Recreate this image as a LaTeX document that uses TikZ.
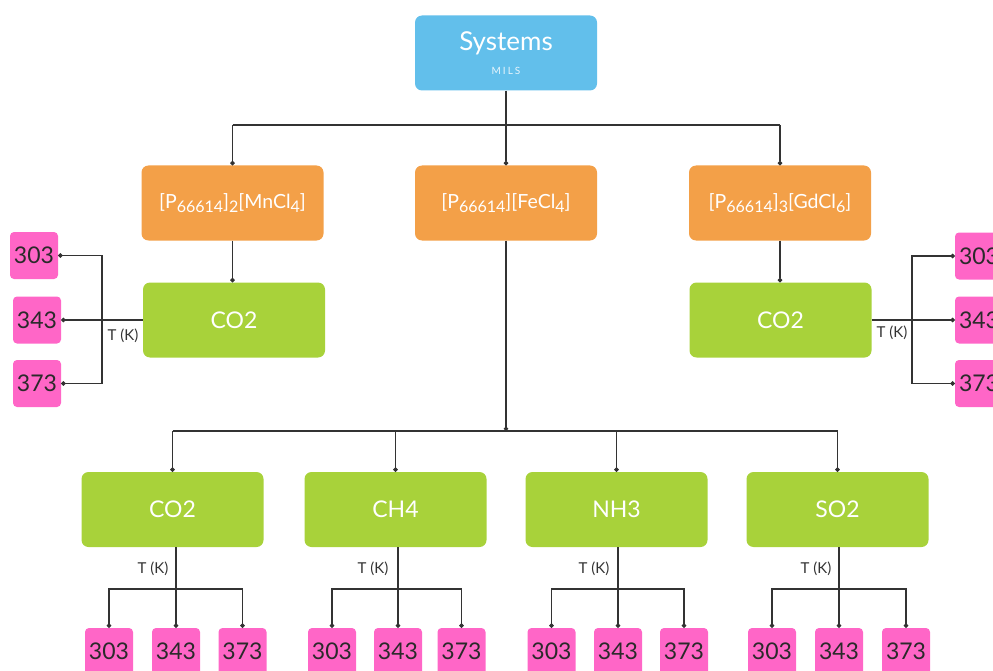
\documentclass[tikz,border=0pt]{standalone}
\usepackage{fontspec}
\setmainfont{Lato}
\usetikzlibrary{arrows.meta}
\definecolor{sysblue}{HTML}{62BFEB}
\definecolor{ionorange}{HTML}{F3A048}
\definecolor{gasgreen}{HTML}{A8D23A}
\definecolor{temppink}{HTML}{FF66C7}
\definecolor{linegray}{HTML}{333333}
\definecolor{pinktext}{HTML}{2A2A2A}
\newcommand{\lowr}[1]{\raisebox{-0.35ex}{\fontsize{16}{16}\selectfont #1}}
\begin{document}
\begin{tikzpicture}[x=1pt,y=-1pt,
  bigbox/.style={rounded corners=7pt, minimum width=182pt, minimum height=75pt, inner sep=0pt, text=white},
  sysbox/.style={bigbox, fill=sysblue, font=\fontsize{26}{28}\selectfont},
  ionbox/.style={bigbox, fill=ionorange, font=\fontsize{19.5}{21}\selectfont},
  gasbox/.style={bigbox, fill=gasgreen, font=\fontsize{23}{25}\selectfont},
  tempbox/.style={rounded corners=4pt, fill=temppink, minimum width=48pt, minimum height=47pt, inner sep=0pt, text=pinktext, font=\fontsize{23}{25}\selectfont},
  conn/.style={draw=linegray, line width=1.1pt},
  dotend/.style={conn, -{Circle[length=4.5pt]}},
  dotboth/.style={conn, {Circle[length=4.5pt]}-{Circle[length=4.5pt]}},
  tlabel/.style={font=\fontsize{15}{16}\selectfont, text=linegray, inner sep=1pt}
]
\useasboundingbox (0,0) rectangle (993,671);
\clip (0,0) rectangle (993,671);

% top
\node[sysbox, align=center] (sys) at (506,53) {Systems\\[-4pt]{\fontsize{10}{11}\selectfont\addfontfeature{LetterSpace=20}\color{white!85!sysblue}MILS}};

\node[ionbox] (o1) at (232.5,203) {[P\lowr{66614}]\lowr{2}[MnCl\lowr{4}]};
\node[ionbox] (o2) at (506,203) {[P\lowr{66614}][FeCl\lowr{4}]};
\node[ionbox] (o3) at (780,203) {[P\lowr{66614}]\lowr{3}[GdCl\lowr{6}]};

\node[gasbox] (g1) at (234,320) {CO2};
\node[gasbox] (g2) at (780.5,320) {CO2};

\node[gasbox] (b1) at (172.5,509.5) {CO2};
\node[gasbox] (b2) at (395.5,509.5) {CH4};
\node[gasbox] (b3) at (616.5,509.5) {NH3};
\node[gasbox] (b4) at (837.5,509.5) {SO2};

% side temperatures
\node[tempbox] (l1) at (34,255.5) {303};
\node[tempbox] (l2) at (37,320) {343};
\node[tempbox] (l3) at (37,383.5) {373};
\node[tempbox] (r1) at (979,256) {303};
\node[tempbox] (r2) at (979,320) {343};
\node[tempbox] (r3) at (979,383.5) {373};

% bottom temperatures
\node[tempbox] (p11) at (109,651.5) {303};
\node[tempbox] (p12) at (176,651.5) {343};
\node[tempbox] (p13) at (242.5,651.5) {373};
\node[tempbox] (p21) at (332,651.5) {303};
\node[tempbox] (p22) at (398,651.5) {343};
\node[tempbox] (p23) at (461.5,651.5) {373};
\node[tempbox] (p31) at (551.5,651.5) {303};
\node[tempbox] (p32) at (618,651.5) {343};
\node[tempbox] (p33) at (684,651.5) {373};
\node[tempbox] (p41) at (772,651.5) {303};
\node[tempbox] (p42) at (839,651.5) {343};
\node[tempbox] (p43) at (906,651.5) {373};

% helper coordinates
\coordinate (topbus) at (0,125);
\coordinate (midbus) at (0,431);
\coordinate (lbr) at (102,0);
\coordinate (rbr) at (912,0);
\coordinate (bbus) at (0,589);

% top tree
\draw[conn] (sys.south) -- (sys.south |- topbus);
\draw[dotend] (o1.north |- topbus) -- (o1.north);
\draw[dotend] (o2.north |- topbus) -- (o2.north);
\draw[dotend] (o3.north |- topbus) -- (o3.north);
\draw[conn] (o1.north |- topbus) -- (o3.north |- topbus);

\draw[dotend] (o1.south) -- (o1.south |- g1.north);
\draw[dotend] (o3.south) -- (o3.south |- g2.north);

% middle tree
\draw[dotend] (o2.south) -- (o2.south |- midbus);
\draw[conn] (b1.north |- midbus) -- (b4.north |- midbus);
\draw[dotend] (b1.north |- midbus) -- (b1.north);
\draw[dotend] (b2.north |- midbus) -- (b2.north);
\draw[dotend] (b3.north |- midbus) -- (b3.north);
\draw[dotend] (b4.north |- midbus) -- (b4.north);

% left bracket
\draw[dotend] (g1.west) -- (l2.east);
\draw[dotboth] (l1.east) -- (l1.east -| lbr) -- (l3.east -| lbr) -- (l3.east);
\node[tlabel] (tl) at (123,336) {T (K)};

% right bracket
\draw[dotend] (g2.east) -- (r2.west);
\draw[dotboth] (r1.west) -- (r1.west -| rbr) -- (r3.west -| rbr) -- (r3.west);
\node[tlabel] (tr) at (892,333) {T (K)};

% bottom brackets
\draw[dotend] (p12.north |- b1.south) -- (p12.north);
\draw[dotboth] (p11.north) -- (p11.north |- bbus) -- (p13.north |- bbus) -- (p13.north);
\node[tlabel] (t1) at (153,569) {T (K)};

\draw[dotend] (p22.north |- b2.south) -- (p22.north);
\draw[dotboth] (p21.north) -- (p21.north |- bbus) -- (p23.north |- bbus) -- (p23.north);
\node[tlabel] (t2) at (373,569) {T (K)};

\draw[dotend] (p32.north |- b3.south) -- (p32.north);
\draw[dotboth] (p31.north) -- (p31.north |- bbus) -- (p33.north |- bbus) -- (p33.north);
\node[tlabel] (t3) at (594,569) {T (K)};

\draw[dotend] (p42.north |- b4.south) -- (p42.north);
\draw[dotboth] (p41.north) -- (p41.north |- bbus) -- (p43.north |- bbus) -- (p43.north);
\node[tlabel] (t4) at (816,569) {T (K)};
\end{tikzpicture}
\end{document}
